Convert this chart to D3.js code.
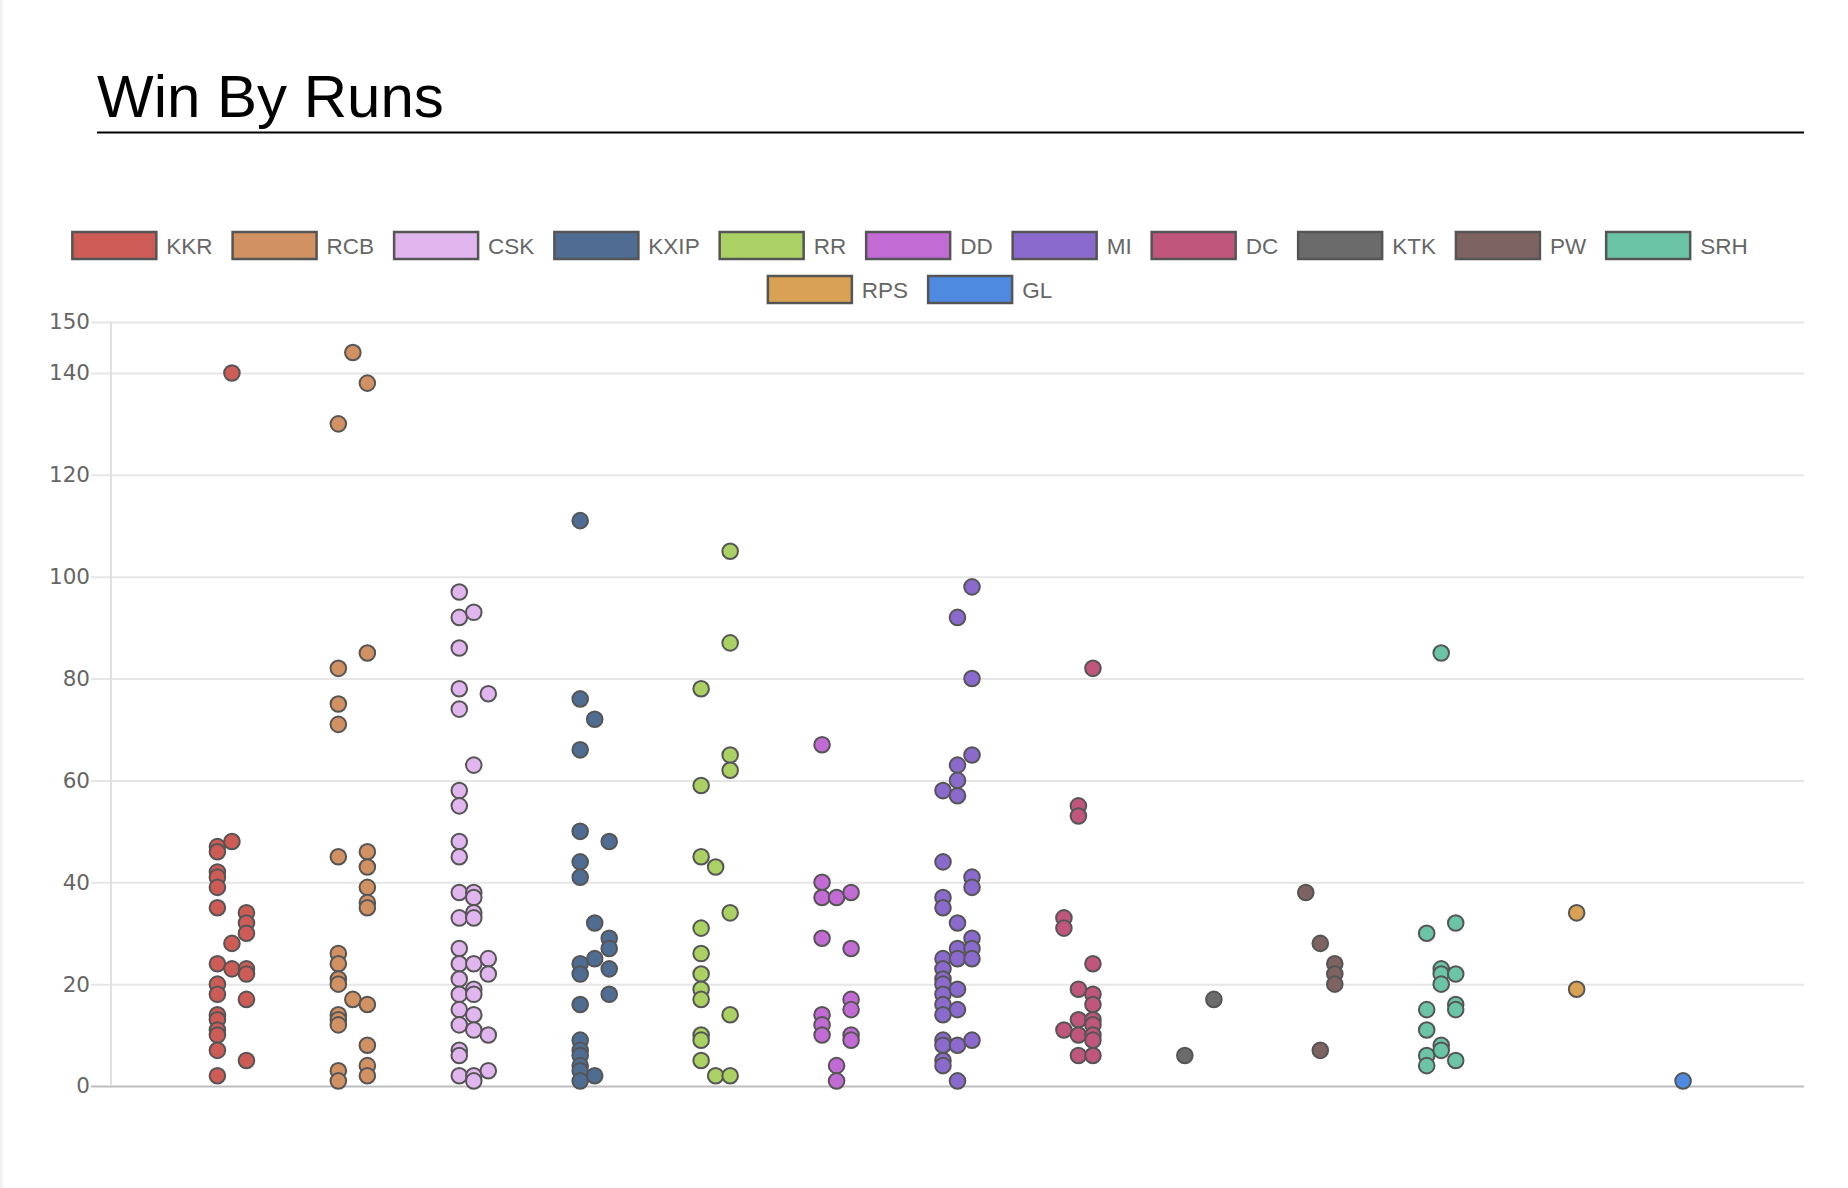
<!DOCTYPE html>
<html>
<head>
<meta charset="utf-8">
<script src="https://cdn.jsdelivr.net/npm/d3@7"></script>
<style>
  html, body { margin: 0; padding: 0; background: #fff; }
  svg { display: block; }
</style>
</head>
<body>
<svg id="chart" width="1848" height="1188"></svg>
<script>
// ---------- DATA ----------
const teams = ["KKR","RCB","CSK","KXIP","RR","DD","MI","DC","KTK","PW","SRH","RPS","GL"];
const colors = ["#cd5c57","#d19163","#e1b5ed","#4f6d93","#abd164","#c36bd5","#8a6bcd","#c0567b","#6b6b6b","#7d6361","#6cc4a6","#d9a153","#4d8ae0"];
const yTicks = [0,20,40,60,80,100,120,140,150];
const jitterSlots = [-1, 0, 1];   // left / middle / right slot of each team
// win-by-runs values per team, split by jitter slot [left, middle, right]
const kkr  = [[47,46,42,41,39,35,24,20,18,14,13,11,10,7,2],[140,48,28,23],[34,32,30,23,22,17,5]];
const rcb  = [[130,82,75,71,45,26,24,21,20,14,13,12,3,1],[144,17],[138,85,46,43,39,36,35,16,8,4,2]];
const csk  = [[97,92,86,78,74,58,55,48,45,38,33,27,24,21,18,15,12,7,6,2],[93,63,38,37,34,33,24,19,18,14,11,2,1],[77,25,22,10,3]];
const kxip = [[111,76,66,50,44,41,24,22,16,9,7,6,4,3,1],[72,32,25,2],[48,29,27,23,18]];
const rr   = [[78,59,45,31,26,22,19,17,10,9,5],[43,2],[105,87,65,62,34,14,2]];
const dd   = [[67,40,37,29,14,12,10],[37,4,1],[38,27,17,15,10,9]];
const mi   = [[58,44,37,35,25,23,21,20,18,16,14,9,8,5,4],[92,63,60,57,32,27,25,19,15,8,1],[98,80,65,41,39,29,27,25,9]];
const dc   = [[33,31,11],[55,53,19,13,10,6],[82,24,18,16,13,12,10,9,6]];
const ktk  = [[6],[],[17]];
const pw   = [[38],[28,7],[24,22,20]];
const srh  = [[30,15,11,6,4],[85,23,22,20,8,7],[32,22,16,15,5]];
const rps  = [[],[],[34,19]];
const gl   = [[],[1],[]];
const teamValues = [kkr,rcb,csk,kxip,rr,dd,mi,dc,ktk,pw,srh,rps,gl];

// ---------- LAYOUT ----------
const FONT = "'Liberation Sans', Arial, Helvetica, sans-serif";
const TICKFONT = "'DejaVu Sans', Verdana, sans-serif";
const svg = d3.select("#chart");
const plot = {left: 111, right: 1804, top: 322, bottom: 1086};
const jitterWidth = 0.12;

// faint left page edge
svg.append("rect").attr("x",0).attr("y",0).attr("width",3).attr("height",1188).attr("fill","#f2f2f2");

// title
svg.append("text").attr("x",97).attr("y",117)
  .attr("font-family",FONT).attr("font-size",60).attr("fill","#000")
  .text("Win By Runs");
svg.append("line").attr("x1",97).attr("x2",1804).attr("y1",132.5).attr("y2",132.5)
  .attr("stroke","#000").attr("stroke-width",2);

// scales
const x = d3.scaleLinear().domain([-1, teams.length]).range([plot.left, plot.right]);
const y = d3.scaleLinear().domain([0,150]).range([plot.bottom, plot.top]);

// grid + y axis
const yAxis = d3.axisLeft(y).tickValues(yTicks).tickSize(plot.right - 91).tickPadding(1).tickFormat(d3.format("d"));
const gy = svg.append("g").attr("transform",`translate(${plot.right},0)`).call(yAxis);
gy.select(".domain").remove();
gy.selectAll(".tick line").attr("stroke", d => d === 0 ? "#bdbdbd" : "#e6e6e6").attr("stroke-width", 2);
gy.selectAll(".tick text").attr("font-family",TICKFONT).attr("font-size",21.5).attr("fill","#666");
// vertical axis line
svg.append("line").attr("x1",plot.left).attr("x2",plot.left).attr("y1",plot.top).attr("y2",plot.bottom)
  .attr("stroke","#e0e0e0").attr("stroke-width",2);

// points
const points = [];
teamValues.forEach((slots, ti) => {
  slots.forEach((vals, si) => {
    vals.forEach(v => points.push({team: ti, slot: jitterSlots[si], value: v}));
  });
});
svg.append("g").selectAll("circle").data(points).join("circle")
  .attr("cx", d => x(d.team + d.slot * jitterWidth))
  .attr("cy", d => y(d.value))
  .attr("r", 7.8)
  .attr("fill", d => colors[d.team])
  .attr("stroke", "#555")
  .attr("stroke-width", 2);

// legend
const legFont = 22.5, boxW = 84, boxH = 27, gapText = 10, itemGap = 20, maxRow = 1790, centerX = 910;
const meas = svg.append("text").attr("font-family",FONT).attr("font-size",legFont).attr("visibility","hidden");
const items = teams.map((t,i) => {
  meas.text(t);
  const tw = meas.node().getComputedTextLength();
  return {name: t, color: colors[i], tw, w: boxW + gapText + tw};
});
meas.remove();
const rows = [[]];
let cur = 0;
items.forEach(it => {
  const add = (rows[rows.length-1].length ? itemGap : 0) + it.w;
  if (cur + add > maxRow && rows[rows.length-1].length) { rows.push([it]); cur = it.w; }
  else { rows[rows.length-1].push(it); cur += add; }
});
const legend = svg.append("g");
rows.forEach((row, ri) => {
  const total = d3.sum(row, d => d.w) + itemGap * (row.length - 1);
  let xx = centerX - total / 2;
  const cy = 245.5 + ri * 44;
  row.forEach(it => {
    legend.append("rect").attr("x", xx).attr("y", cy - boxH/2).attr("width", boxW).attr("height", boxH)
      .attr("fill", it.color).attr("stroke", "#555").attr("stroke-width", 2.5);
    legend.append("text").attr("x", xx + boxW + gapText).attr("y", cy).attr("dy","0.36em")
      .attr("font-family",FONT).attr("font-size",legFont).attr("fill","#666").text(it.name);
    xx += it.w + itemGap;
  });
});
</script>
</body>
</html>
